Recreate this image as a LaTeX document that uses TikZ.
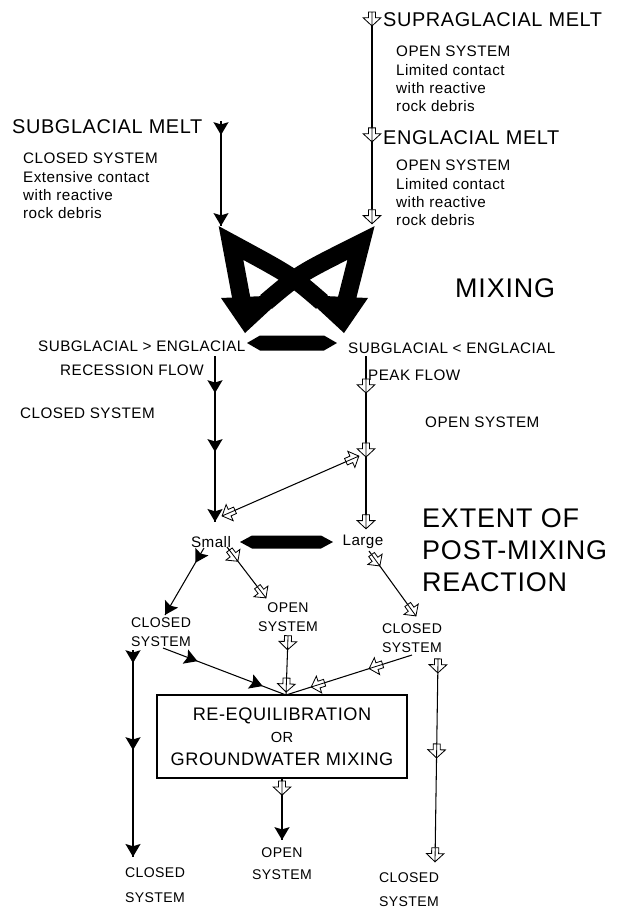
\documentclass[tikz,border=0pt]{standalone}
\usepackage{fontspec}
\setmainfont{Liberation Sans}[LetterSpace=3]
\usetikzlibrary{decorations.markings}
\newcommand\fullhead{\fill (0,0) -- (-11pt,6.5pt) -- (-9pt,0) -- (-11pt,-6.5pt) -- cycle;}
\newcommand\openhead[1][]{\draw[#1,fill=white,line width=0.7pt,line join=miter]
  (0,0) -- (-7pt,7.5pt) -- (-7pt,3pt) -- (-12pt,3pt) -- (-12pt,-3pt) -- (-7pt,-3pt)
  -- (-7pt,-7.5pt) -- cycle (-12pt,0) -- (0,0);}

\begin{document}
\begin{tikzpicture}[x=0.03cm,y=-0.03cm,
  flow/.style={line width=0.9pt},
  fullat/.style={postaction={decorate,decoration={markings,mark=at position #1 with {\fullhead}}}},
  openat/.style={postaction={decorate,decoration={markings,mark=at position #1 with {\openhead}}}},
  heading/.style={font=\fontsize{17}{20}\selectfont,inner sep=0pt},
  note/.style={font=\fontsize{13}{15.6}\selectfont,inner sep=0pt,align=left},
  pair/.style={font=\fontsize{12}{#1}\selectfont,inner sep=0pt,align=center},
  pair/.default=16.2pt,
  title/.style={font=\fontsize{23}{27.3}\selectfont,inner sep=0pt,align=left},
  band/.style={line width=0.54cm,line join=miter}]
  \useasboundingbox (0,0) rectangle (625,910);

  % melt sources
  \node[heading,anchor=west] (supra) at (383,20) {SUPRAGLACIAL MELT};
  \node[note,anchor=west] (supraNote) at (396,79)
    {OPEN SYSTEM\\Limited contact\\with reactive\\rock debris};
  \node[heading,anchor=west] (engl) at (383,138) {ENGLACIAL MELT};
  \node[note,anchor=west] (englNote) at (396,193)
    {OPEN SYSTEM\\Limited contact\\with reactive\\rock debris};
  \node[heading,anchor=west] (subg) at (12,127) {SUBGLACIAL MELT};
  \node[note,anchor=west] (subgNote) at (23,186)
    {CLOSED SYSTEM\\Extensive contact\\with reactive\\rock debris};

  \coordinate (supraTop) at (372,12);
  \coordinate (supraEnd) at (372,224);
  \coordinate (subgTop) at (221,121);
  \coordinate (subgEnd) at (221,226);
  \draw[flow,openat/.list={0.066,0.613,0.999}] (supraTop) -- (supraEnd);
  \draw[flow,fullat/.list={0.133,0.999}] (subgTop) -- (subgEnd);

  % mixing symbol
  \coordinate (mixTL) at (231,243);
  \coordinate (mixTR) at (361,243);
  \coordinate (mixLb) at (242,302);
  \coordinate (mixLc) at (266,302);
  \coordinate (mixRb) at (346,302);
  \coordinate (mixRc) at (322,302);
  \draw[band] (mixLb) -- (mixTL) .. controls (292,276) .. (mixRc);
  \draw[band] (mixLc) .. controls (299,274) .. (mixTR) -- (mixRb);
  \fill (245,333) -- (221,298) -- (286,295) -- cycle;
  \fill (344,333) -- (303,295) -- (368,298) -- cycle;
  \node[title,anchor=west] (mixing) at (455,288) {MIXING};

  \fill (247,343) -- (260,335.5) -- (324,335.5) -- (337,343)
    -- (324,350.5) -- (260,350.5) -- cycle;
  \node[note,anchor=west] (subgMore) at (38,346) {SUBGLACIAL > ENGLACIAL};
  \node[note,anchor=west] (englMore) at (348,348) {SUBGLACIAL < ENGLACIAL};
  \node[note,anchor=west] (recession) at (60,370) {RECESSION FLOW};
  \node[note,anchor=west] (peak) at (368,375) {PEAK FLOW};
  \node[note,anchor=west] (closedL) at (20,413) {CLOSED SYSTEM};
  \node[note,anchor=west] (openR) at (425,422) {OPEN SYSTEM};

  % recession and peak flow
  \coordinate (recTop) at (215,356);
  \coordinate (recEnd) at (215,522);
  \coordinate (peakTop) at (366,356);
  \coordinate (peakEnd) at (366,529);
  \draw[flow,fullat/.list={0.223,0.578,0.999}] (recTop) -- (recEnd);
  \draw[flow,openat/.list={0.214,0.584,0.999}] (peakTop) -- (peakEnd);
  \coordinate (diagL) at (222,516);
  \coordinate (diagR) at (359,456);
  \draw[flow,openat=0.999,postaction={decorate,decoration={markings,
    mark=at position 0.001 with {\openhead[xscale=-1]}}}] (diagL) -- (diagR);

  % extent of post-mixing reaction
  \node[note] (small) at (211,542) {Small};
  \node[note] (large) at (363,542) {Large};
  \fill (240,542) -- (252,535.5) -- (321,535.5) -- (333,542)
    -- (321,548.5) -- (252,548.5) -- cycle;
  \node[title,anchor=west] (extent) at (422,550) {EXTENT OF\\POST-MIXING\\REACTION};

  \node[pair] (midClosedL) at (161,632) {CLOSED\\SYSTEM};
  \node[pair] (midOpen) at (288,617) {OPEN\\SYSTEM};
  \node[pair] (midClosedR) at (412,638) {CLOSED\\SYSTEM};
  \coordinate (smallA) at (204,548);
  \coordinate (smallB) at (165,615);
  \coordinate (smallC) at (227,547);
  \coordinate (smallD) at (266,598);
  \coordinate (largeA) at (369,551);
  \coordinate (largeB) at (416,616);
  \draw[flow,fullat/.list={0.22,0.999}] (smallA) -- (smallB);
  \draw[flow,openat/.list={0.28,0.999}] (smallC) -- (smallD);
  \draw[flow,openat/.list={0.23,0.999}] (largeA) -- (largeB);

  % re-equilibration
  \node[draw,line width=0.9pt,minimum width=7.5cm,minimum height=2.49cm,inner sep=0pt,
    align=center,font=\fontsize{15.5}{19.2}\selectfont] (box) at (282,736.5)
    {RE-EQUILIBRATION\\{\fontsize{12.5}{19.2}\selectfont OR}\\GROUNDWATER MIXING};
  \coordinate (meet) at (286,695);
  \coordinate (leftA) at (163,648);
  \coordinate (openA) at (288,637);
  \coordinate (rightA) at (412,655);
  \draw[flow,fullat/.list={0.28,0.81}] (leftA) -- (meet);
  \draw[flow,openat/.list={0.22,0.95}] (openA) -- (meet);
  \draw[flow,openat/.list={0.34,0.80}] (rightA) -- (meet);

  \coordinate (leftTop) at (133,650);
  \coordinate (leftEnd) at (133,857);
  \coordinate (rightTop) at (438,660);
  \coordinate (rightEnd) at (435,862);
  \coordinate (boxEnd) at (282,840);
  \draw[flow,fullat/.list={0.063,0.483,0.999}] (leftTop) -- (leftEnd);
  \draw[flow,openat/.list={0.064,0.485,0.999}] (rightTop) -- (rightEnd);
  \draw[flow,openat=0.27,fullat=0.999] (box.south) -- (boxEnd);

  \node[pair=21pt] (botClosedL) at (155,885) {CLOSED\\SYSTEM};
  \node[pair=18.8pt] (botOpen) at (282,864) {OPEN\\SYSTEM};
  \node[pair=20.5pt] (botClosedR) at (409,890) {CLOSED\\SYSTEM};
\end{tikzpicture}
\end{document}
